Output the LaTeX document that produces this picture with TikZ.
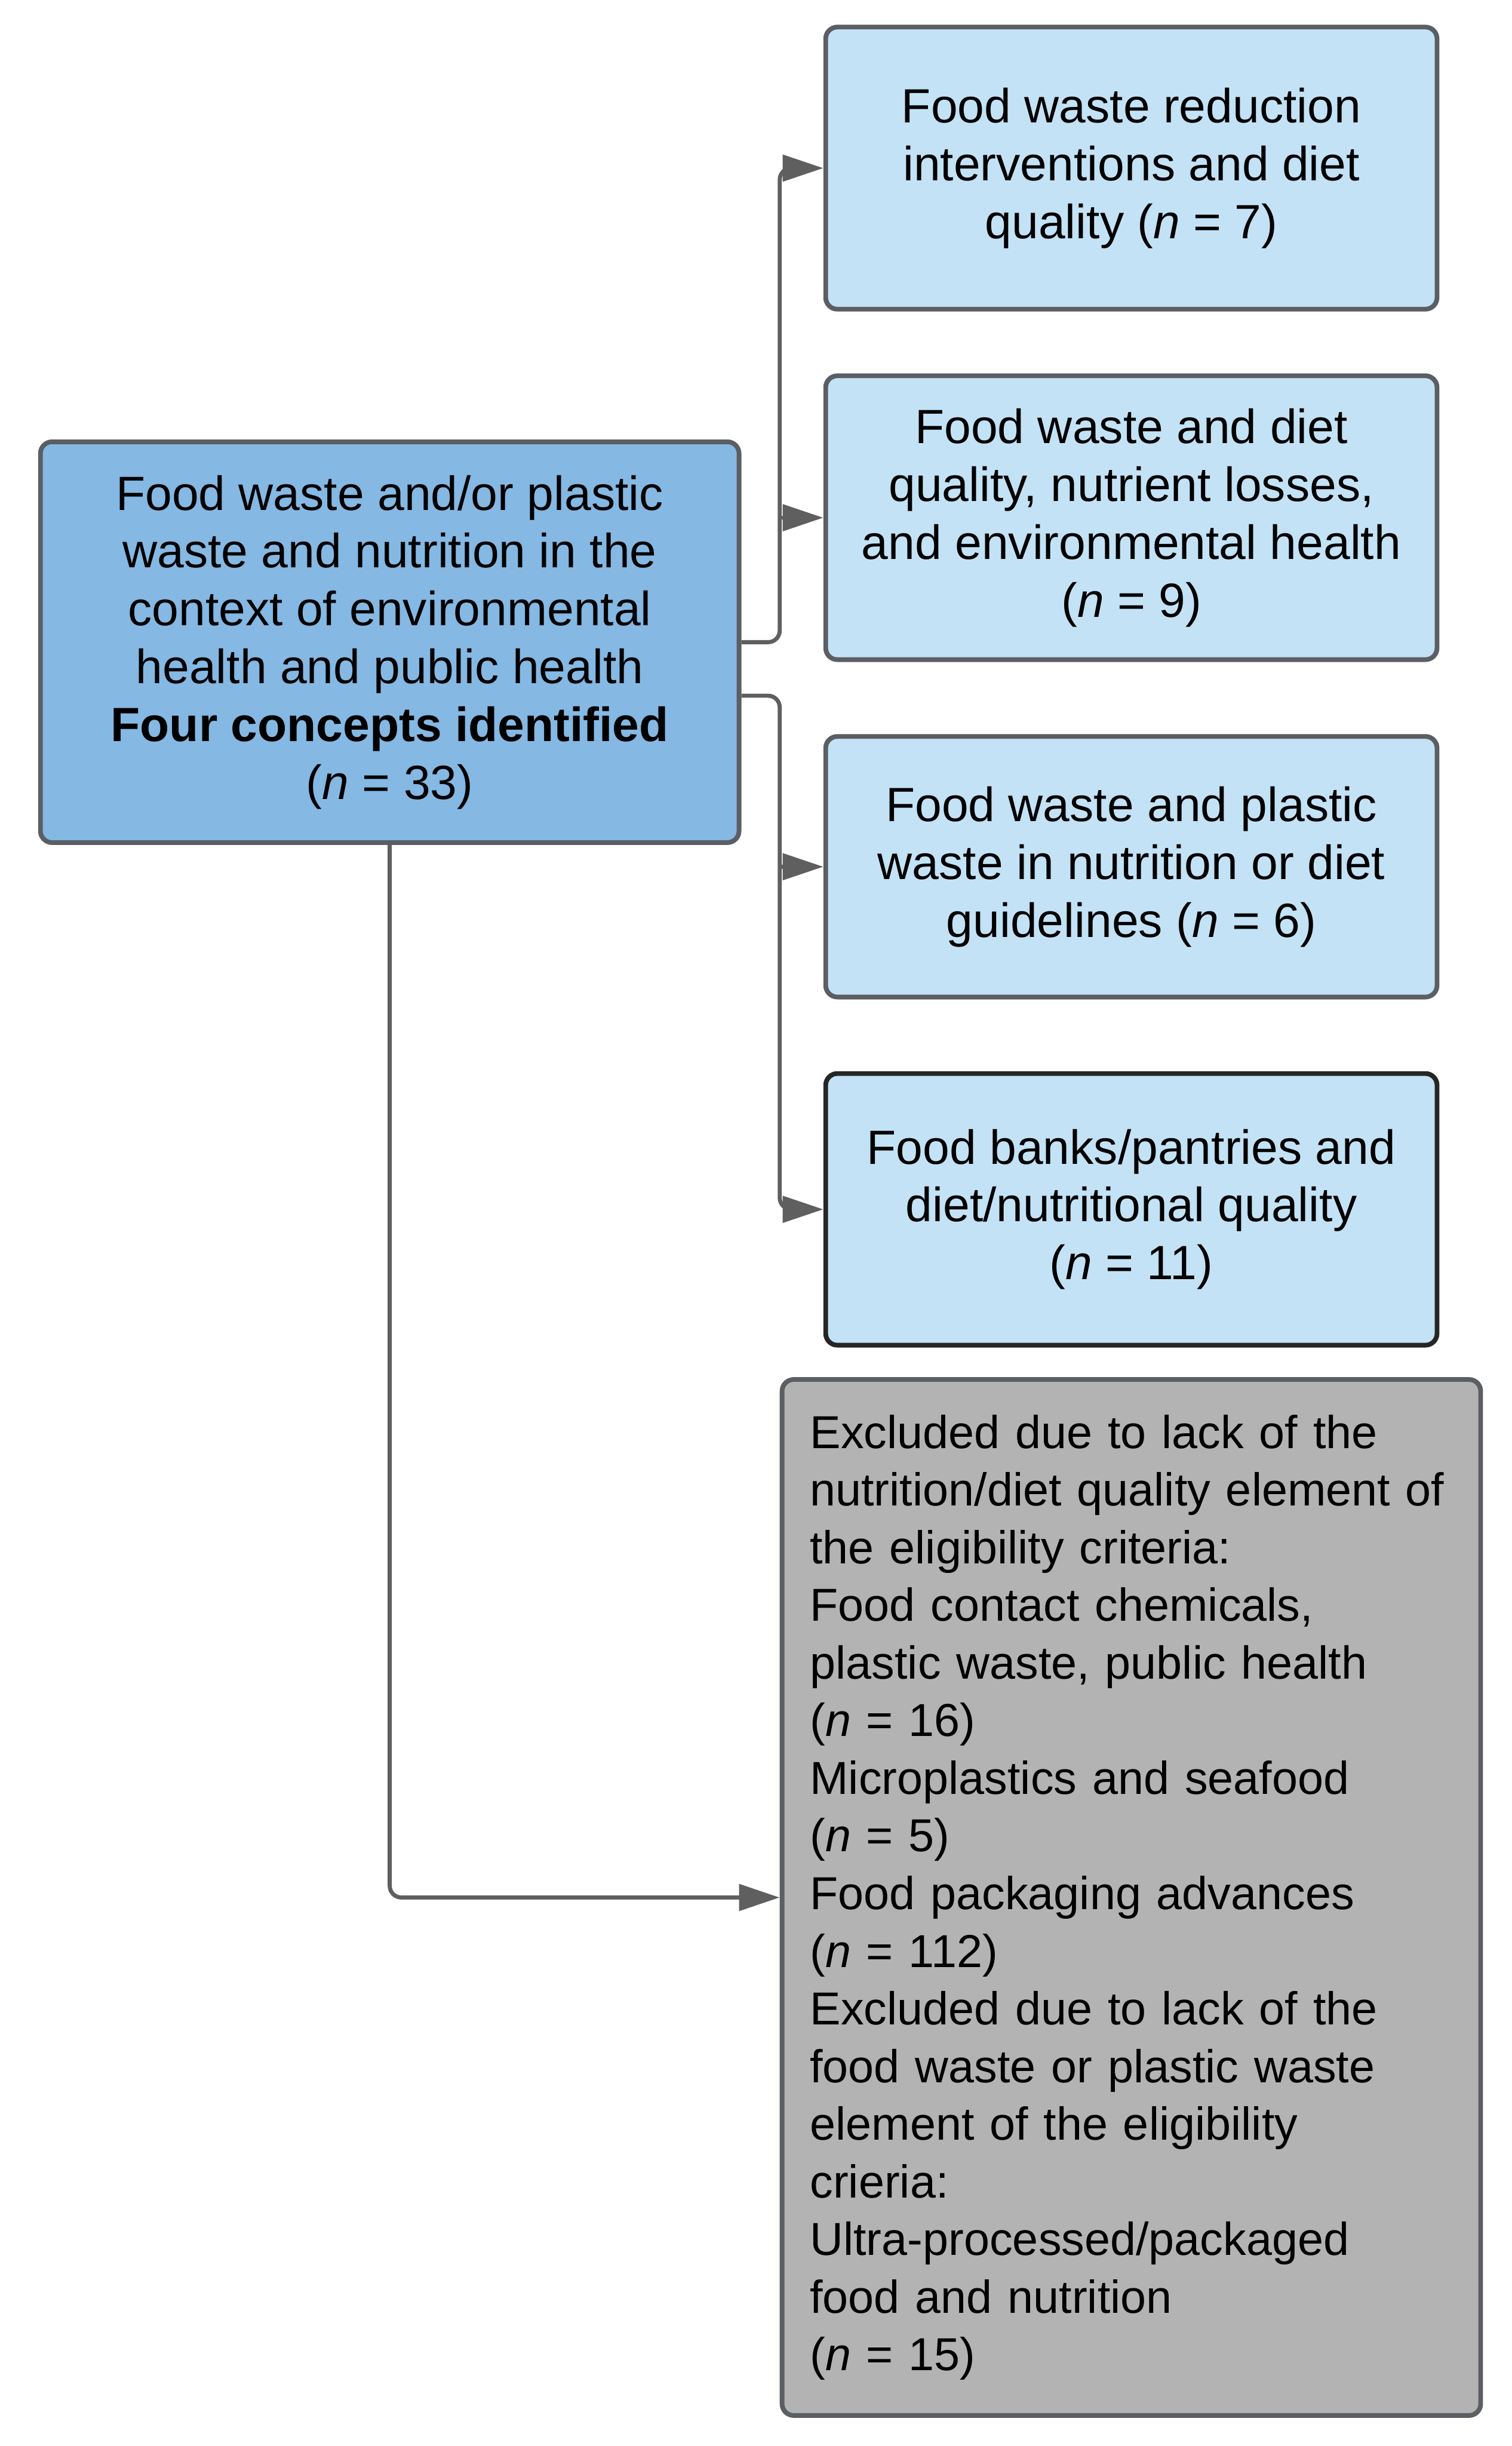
\documentclass[tikz,border=0pt]{standalone}
\usepackage{fontspec}
\setmainfont{Liberation Sans}
\usepackage{xcolor}
\usetikzlibrary{arrows.meta, positioning, calc}

\definecolor{mainblue}{HTML}{85B8E3}
\definecolor{lightblue}{HTML}{C3E2F5}
\definecolor{boxgray}{HTML}{B3B3B3}
\definecolor{edgegray}{HTML}{5B5E63}
\definecolor{linegray}{HTML}{5F5F5F}

\begin{document}
\begin{tikzpicture}[
    box/.style={draw=edgegray, line width=2.3pt, rounded corners=0.2cm, align=center, inner sep=0pt, font=\fontsize{23.5}{28.3}\selectfont},
    sub/.style={box, fill=lightblue, minimum width=10.51cm},
    conn/.style={draw=linegray, line width=2pt, rounded corners=0.2cm, -{Triangle[length=0.7cm, width=0.45cm]}},
]
    \useasboundingbox (0,0) rectangle (25.99,-42.05);

    % Conceito principal
    \node[box, fill=mainblue, minimum width=12.01cm, minimum height=6.89cm] (main) at (6.70,-11.04) {Food waste and/or plastic\\waste and nutrition in the\\context of environmental\\health and public health\\\textbf{Four concepts identified}\\(\textit{n} = 33)};

    % Quatro conceitos
    \node[sub, minimum height=4.85cm] (c1) at (19.45,-2.89) {Food waste reduction\\interventions and diet\\quality (\textit{n} = 7)};
    \node[sub, minimum height=4.88cm] (c2) at (19.45,-8.90) {Food waste and diet\\quality, nutrient losses,\\and environmental health\\(\textit{n} = 9)};
    \node[sub, minimum height=4.48cm] (c3) at (19.45,-14.90) {Food waste and plastic\\waste in nutrition or diet\\guidelines (\textit{n} = 6)};
    \node[sub, draw=black!85, minimum height=4.67cm] (c4) at (19.45,-20.79) {Food banks/pantries and\\diet/nutritional quality\\(\textit{n} = 11)};

    % Excluidos
    \node[box, fill=boxgray, minimum width=12.01cm, minimum height=17.81cm, text width=11.05cm, align=left, font=\fontsize{22.6}{28.2}\selectfont] (ex) at (19.45,-32.62) {Excluded due to lack of the\\nutrition/diet quality element of\\the eligibility criteria:\\Food contact chemicals,\\plastic waste, public health\\(\textit{n} = 16)\\Microplastics and seafood\\(\textit{n} = 5)\\Food packaging advances\\(\textit{n} = 112)\\Excluded due to lack of the\\food waste or plastic waste\\element of the eligibility\\crieria:\\Ultra-processed/packaged\\food and nutrition\\(\textit{n} = 15)};

    % Setas
    \coordinate (j1) at ([xshift=-0.75cm]c1.west);
    \coordinate (j2) at ([xshift=-0.75cm]c2.west);
    \coordinate (j3) at ([xshift=-0.75cm]c3.west);
    \coordinate (j4) at ([xshift=-0.75cm]c4.west);
    \coordinate (lo) at ([yshift=-0.92cm]main.east);
    \draw[conn] (main.east) -| (j1) -- (c1.west);
    \draw[conn] (j2) -- (c2.west);
    \draw[conn] (lo) -| (j4) -- (c4.west);
    \draw[conn] (j3) -- (c3.west);
    \draw[conn] (main.south) |- (ex.west);
\end{tikzpicture}
\end{document}
